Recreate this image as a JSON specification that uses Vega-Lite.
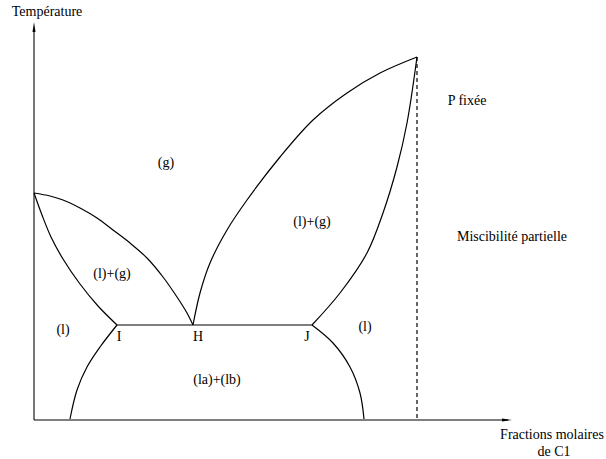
{
  "$schema": "https://vega.github.io/schema/vega-lite/v6.json",
  "width": 606,
  "height": 459,
  "autosize": {"type": "fit", "contains": "padding"},
  "padding": 0,
  "background": "white",
  "config": {"view": {"stroke": null}},
  "datasets": {
    "curves": [
      {"s": "A", "o": 0, "x": 34, "y": 193}, {"s": "A", "o": 1, "x": 50, "y": 196}, {"s": "A", "o": 2, "x": 63, "y": 200}, {"s": "A", "o": 3, "x": 80, "y": 208}, {"s": "A", "o": 4, "x": 97, "y": 218}, {"s": "A", "o": 5, "x": 113, "y": 230}, {"s": "A", "o": 6, "x": 130, "y": 243}, {"s": "A", "o": 7, "x": 147, "y": 258}, {"s": "A", "o": 8, "x": 163, "y": 277}, {"s": "A", "o": 9, "x": 177, "y": 297}, {"s": "A", "o": 10, "x": 187, "y": 313}, {"s": "A", "o": 11, "x": 193, "y": 325},
      {"s": "B", "o": 0, "x": 34, "y": 193}, {"s": "B", "o": 1, "x": 42, "y": 215}, {"s": "B", "o": 2, "x": 51, "y": 237}, {"s": "B", "o": 3, "x": 63, "y": 259}, {"s": "B", "o": 4, "x": 80, "y": 284}, {"s": "B", "o": 5, "x": 98, "y": 306}, {"s": "B", "o": 6, "x": 117, "y": 325},
      {"s": "C", "o": 0, "x": 117, "y": 325}, {"s": "C", "o": 1, "x": 312, "y": 325},
      {"s": "D", "o": 0, "x": 193, "y": 325}, {"s": "D", "o": 1, "x": 200, "y": 293}, {"s": "D", "o": 2, "x": 210, "y": 263}, {"s": "D", "o": 3, "x": 227, "y": 230}, {"s": "D", "o": 4, "x": 247, "y": 200}, {"s": "D", "o": 5, "x": 280, "y": 157}, {"s": "D", "o": 6, "x": 313, "y": 120}, {"s": "D", "o": 7, "x": 347, "y": 93}, {"s": "D", "o": 8, "x": 380, "y": 73}, {"s": "D", "o": 9, "x": 417, "y": 57},
      {"s": "E", "o": 0, "x": 312, "y": 325}, {"s": "E", "o": 1, "x": 340, "y": 293}, {"s": "E", "o": 2, "x": 367, "y": 253}, {"s": "E", "o": 3, "x": 383, "y": 213}, {"s": "E", "o": 4, "x": 397, "y": 167}, {"s": "E", "o": 5, "x": 407, "y": 123}, {"s": "E", "o": 6, "x": 417, "y": 57},
      {"s": "F", "o": 0, "x": 117, "y": 325}, {"s": "F", "o": 1, "x": 100, "y": 347}, {"s": "F", "o": 2, "x": 87, "y": 367}, {"s": "F", "o": 3, "x": 77, "y": 390}, {"s": "F", "o": 4, "x": 70, "y": 419},
      {"s": "G", "o": 0, "x": 312, "y": 325}, {"s": "G", "o": 1, "x": 333, "y": 343}, {"s": "G", "o": 2, "x": 350, "y": 367}, {"s": "G", "o": 3, "x": 360, "y": 393}, {"s": "G", "o": 4, "x": 364, "y": 419},
      {"s": "X", "o": 0, "x": 34, "y": 420}, {"s": "X", "o": 1, "x": 508, "y": 420}
    ],
    "yaxis": [{"o": 0, "x": 34, "y": 420}, {"o": 1, "x": 34, "y": 30}],
    "dashed": [{"o": 0, "x": 417, "y": 57}, {"o": 1, "x": 417, "y": 420}],
    "arrowUp": [{"x": 34, "y": 27}],
    "arrowRight": [{"x": 507, "y": 420}],
    "labels": [
      {"t": "(g)", "x": 166, "y": 163},
      {"t": "(l)+(g)", "x": 112, "y": 274},
      {"t": "(l)+(g)", "x": 312, "y": 222},
      {"t": "(l)", "x": 63, "y": 330},
      {"t": "(l)", "x": 365, "y": 327},
      {"t": "I", "x": 119, "y": 337},
      {"t": "H", "x": 198, "y": 337},
      {"t": "J", "x": 307, "y": 337},
      {"t": "(la)+(lb)", "x": 217, "y": 380},
      {"t": "P fixée", "x": 467, "y": 101},
      {"t": "Miscibilité partielle", "x": 512, "y": 237},
      {"t": "Température", "x": 47, "y": 12},
      {"t": "Fractions molaires", "x": 552, "y": 435},
      {"t": "de C1", "x": 554, "y": 452}
    ]
  },
  "layer": [
    {
      "data": {"name": "yaxis"},
      "mark": {"type": "line", "color": "#777777", "strokeWidth": 2},
      "encoding": {
        "x": {"field": "x", "type": "quantitative", "scale": {"domain": [0, 606], "nice": false, "zero": false}, "axis": null},
        "y": {"field": "y", "type": "quantitative", "scale": {"domain": [0, 459], "nice": false, "zero": false, "reverse": true}, "axis": null},
        "order": {"field": "o"}
      }
    },
    {
      "data": {"name": "curves"},
      "mark": {"type": "line", "color": "black", "strokeWidth": 1.2, "interpolate": "catmull-rom"},
      "encoding": {
        "x": {"field": "x", "type": "quantitative"},
        "y": {"field": "y", "type": "quantitative"},
        "detail": {"field": "s"},
        "order": {"field": "o"}
      }
    },
    {
      "data": {"name": "dashed"},
      "mark": {"type": "line", "color": "black", "strokeWidth": 1.2, "strokeDash": [4, 3]},
      "encoding": {
        "x": {"field": "x", "type": "quantitative"},
        "y": {"field": "y", "type": "quantitative"},
        "order": {"field": "o"}
      }
    },
    {
      "data": {"name": "arrowUp"},
      "mark": {"type": "point", "filled": true, "color": "black", "opacity": 1, "size": 100, "shape": "M0,-1L0.3,1L-0.3,1Z"},
      "encoding": {
        "x": {"field": "x", "type": "quantitative"},
        "y": {"field": "y", "type": "quantitative"}
      }
    },
    {
      "data": {"name": "arrowRight"},
      "mark": {"type": "point", "filled": true, "color": "black", "opacity": 1, "size": 100, "shape": "M1,0L-1,-0.3L-1,0.3Z"},
      "encoding": {
        "x": {"field": "x", "type": "quantitative"},
        "y": {"field": "y", "type": "quantitative"}
      }
    },
    {
      "data": {"name": "labels"},
      "mark": {"type": "text", "font": "Liberation Serif", "fontSize": 14, "align": "center", "baseline": "middle", "color": "black"},
      "encoding": {
        "x": {"field": "x", "type": "quantitative"},
        "y": {"field": "y", "type": "quantitative"},
        "text": {"field": "t"}
      }
    }
  ]
}
